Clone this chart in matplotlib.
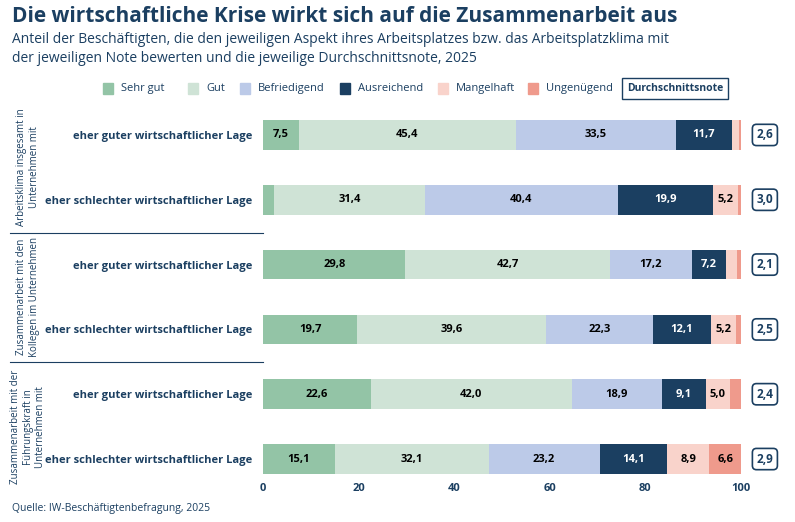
import matplotlib
matplotlib.use("Agg")
import matplotlib.pyplot as plt
import numpy as np
from matplotlib.patches import Rectangle

plt.rcParams['font.family'] = ['Open Sans', 'DejaVu Sans']

rows = ["eher guter wirtschaftlicher Lage", "eher schlechter wirtschaftlicher Lage"] * 3
groups = ["Arbeitsklima insgesamt in\nUnternehmen mit",
          "Zusammenarbeit mit den\nKollegen im Unternehmen",
          "Zusammenarbeit mit der\nFührungskraft in\nUnternehmen mit"]
cats = ["Sehr gut", "Gut", "Befriedigend", "Ausreichend", "Mangelhaft", "Ungenügend"]
colors = ["#93c4a6", "#cfe3d6", "#bccae8", "#1b3f61", "#f9d3cb", "#ef9a8c"]
sehr_gut = [7.5, 2.4, 29.8, 19.7, 22.6, 15.1]
gut = [45.4, 31.4, 42.7, 39.6, 42.0, 32.1]
befr = [33.5, 40.4, 17.2, 22.3, 18.9, 23.2]
ausr = [11.7, 19.9, 7.2, 12.1, 9.1, 14.1]
mang = [1.4, 5.2, 2.3, 5.2, 5.0, 8.9]
ung = [0.5, 0.7, 0.8, 1.1, 2.4, 6.6]
avg = ["2,6", "3,0", "2,1", "2,5", "2,4", "2,9"]
series = [sehr_gut, gut, befr, ausr, mang, ung]

fig = plt.figure(figsize=(7.95, 5.22), dpi=100)
ax = fig.add_axes([263/795, 1-478.5/522, 478/795, 363/522])
y = np.arange(len(rows))
left = np.zeros(len(rows))
for name, vals, c in zip(cats, series, colors):
    vals = np.array(vals)
    ax.barh(y, vals, left=left, height=0.46, color=c, label=name)
    for yi, (l, v) in enumerate(zip(left, vals)):
        if v >= 4.5:
            ax.text(l + v/2, yi, f"{v:.1f}".replace(".", ","), ha="center", va="center",
                    fontsize=8, fontweight="bold", color="white" if c == "#1b3f61" else "black")
    left += vals
for yi, a in enumerate(avg):
    ax.text(105, yi, a, ha="center", va="center", fontsize=8.5, fontweight="bold", color="#1b3f61",
            bbox=dict(boxstyle="round,pad=0.35", fc="white", ec="#1b3f61", lw=1.2), clip_on=False)
ax.set_xlim(0, 100)
ax.set_ylim(5.3, -0.3)
ax.set_yticks(y)
ax.set_yticklabels(rows, fontsize=8, fontweight="bold", color="#1b3f61")
ax.set_xticks([0, 20, 40, 60, 80, 100])
ax.tick_params(axis="x", labelsize=8, colors="#1b3f61", length=0)
ax.tick_params(axis="y", length=0, pad=8)
for lab in ax.get_xticklabels():
    lab.set_fontweight("bold")
for s in ax.spines.values():
    s.set_visible(False)

for gy, g in zip([167, 297, 427], groups):
    fig.text(28/795, 1-gy/522, g, rotation=90, ha="center", va="center", fontsize=7,
             color="#1b3f61", multialignment="center")
for ly in [233, 362]:
    fig.add_artist(plt.Line2D([10/795, 263/795], [1-ly/522]*2, color="#1b3f61", lw=0.8))

fig.text(12/795, 1-16/522, "Die wirtschaftliche Krise wirkt sich auf die Zusammenarbeit aus",
         fontsize=15, fontweight="bold", color="#1b3f61", va="center")
fig.text(12/795, 1-49/522, "Anteil der Beschäftigten, die den jeweiligen Aspekt ihres Arbeitsplatzes bzw. das Arbeitsplatzklima mit\nder jeweiligen Note bewerten und die jeweilige Durchschnittsnote, 2025",
         fontsize=10, color="#1b3f61", va="center", linespacing=1.3)
fig.text(12/795, 1-509/522, "Quelle: IW-Beschäftigtenbefragung, 2025", fontsize=7.5, color="#1b3f61", va="center")

# legend
lx = [103, 188, 240, 340, 438, 528]
for x0, name, c in zip(lx, cats, colors):
    fig.add_artist(Rectangle((x0/795, 1-94/522), 10/795, 11/522, color=c))
    fig.text((x0+18)/795, 1-88.5/522, name, fontsize=8, color="#1b3f61", va="center")
fig.text(627/795, 1-88.5/522, "Durchschnittsnote", fontsize=7.5, fontweight="bold", color="#1b3f61",
         va="center", bbox=dict(boxstyle="square,pad=0.5", fc="white", ec="#1b3f61", lw=1))
fig.savefig("out.png", dpi=100)
